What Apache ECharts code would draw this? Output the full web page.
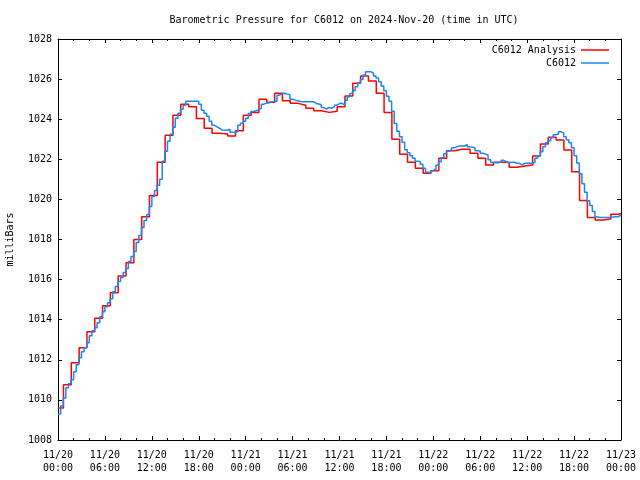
<!DOCTYPE html>
<html><head><meta charset="utf-8">
<script src="https://cdn.jsdelivr.net/npm/echarts@6/dist/echarts.min.js"></script>
<style>html,body{margin:0;padding:0;background:#fff}#c{width:640px;height:480px}</style>
</head><body><div id="c"></div>
<script>
// hours since 2024-11-20 00:00 UTC
const redTimes = [0,0.7,1.7,2.7,3.7,4.7,5.7,6.7,7.7,8.7,9.7,10.7,11.7,12.7,13.7,14.7,15.7,16.7,17.7,18.7,19.7,20.7,21.7,22.7,23.7,24.7,25.7,26.7,27.7,28.7,29.7,30.7,31.7,32.7,33.7,34.7,35.7,36.7,37.7,38.7,39.7,40.7,41.7,42.7,43.7,44.7,45.7,46.7,47.7,48.7,49.7,50.7,51.7,52.7,53.7,54.7,55.7,56.7,57.7,58.7,59.7,60.7,61.7,62.7,63.7,64.7,65.7,66.7,67.7,68.7,69.7,70.7,71.7,72];
const redValues = [1009.6,1010.75,1011.85,1012.6,1013.4,1014.07,1014.7,1015.35,1016.18,1016.84,1018.0,1019.14,1020.2,1021.85,1023.2,1024.2,1024.74,1024.62,1024.04,1023.55,1023.3,1023.26,1023.16,1023.43,1024.2,1024.34,1024.99,1024.85,1025.3,1024.92,1024.79,1024.7,1024.54,1024.42,1024.34,1024.4,1024.62,1025.16,1025.79,1026.15,1025.9,1025.29,1024.34,1023.0,1022.25,1021.85,1021.55,1021.3,1021.43,1022.05,1022.43,1022.5,1022.5,1022.3,1022.05,1021.72,1021.85,1021.85,1021.6,1021.67,1021.72,1022.16,1022.76,1023.1,1022.96,1022.46,1021.38,1019.94,1019.1,1018.97,1019.02,1019.26,1019.3,1019.3];
// C6012 observations every 20 minutes
const blueValues = [
1009.30,1009.70,1010.10,1010.60,1010.80,1011.00,1011.40,1011.75,1012.10,1012.40,
1012.60,1012.85,1013.20,1013.45,1013.60,1013.85,1014.15,1014.40,1014.65,1014.85,
1015.05,1015.40,1015.65,1015.90,1016.10,1016.35,1016.55,1016.90,1017.15,1017.40,
1017.85,1018.20,1018.60,1018.95,1019.25,1019.65,1020.15,1020.45,1020.70,1021.00,
1021.90,1022.40,1022.90,1023.25,1023.60,1024.05,1024.30,1024.50,1024.70,1024.90,
1024.90,1024.90,1024.90,1024.90,1024.75,1024.45,1024.30,1024.15,1023.90,1023.70,
1023.62,1023.55,1023.46,1023.45,1023.45,1023.50,1023.35,1023.33,1023.40,1023.70,
1023.80,1023.90,1024.05,1024.28,1024.38,1024.42,1024.46,1024.54,1024.75,1024.80,
1024.82,1024.87,1024.87,1024.90,1025.20,1025.28,1025.29,1025.25,1025.22,1025.00,
1024.95,1024.92,1024.88,1024.87,1024.87,1024.87,1024.87,1024.87,1024.80,1024.76,
1024.72,1024.58,1024.50,1024.59,1024.55,1024.60,1024.70,1024.78,1024.79,1024.70,
1024.95,1025.12,1025.28,1025.42,1025.62,1025.80,1025.98,1026.20,1026.37,1026.37,
1026.30,1026.15,1026.05,1025.87,1025.66,1025.42,1025.15,1024.90,1024.40,1023.78,
1023.40,1023.12,1022.85,1022.48,1022.33,1022.18,1022.05,1021.90,1021.88,1021.75,
1021.55,1021.36,1021.33,1021.43,1021.52,1021.70,1021.88,1022.08,1022.28,1022.40,
1022.47,1022.57,1022.62,1022.66,1022.66,1022.66,1022.74,1022.62,1022.60,1022.56,
1022.43,1022.42,1022.30,1022.26,1022.20,1021.98,1021.84,1021.83,1021.83,1021.85,
1021.95,1021.88,1021.82,1021.85,1021.85,1021.80,1021.80,1021.72,1021.80,1021.80,
1021.80,1021.80,1021.85,1022.05,1022.18,1022.38,1022.63,1022.82,1022.92,1023.08,
1023.22,1023.26,1023.38,1023.30,1023.12,1022.98,1022.82,1022.57,1022.18,1021.82,
1021.28,1020.78,1020.36,1019.93,1019.70,1019.40,1019.12,1019.10,1019.10,1019.10,
1019.10,1019.10,1019.12,1019.14,1019.14,1019.22,1019.22];
const blueStepHours = 1/3;
const seriesNames = ['C6012 Analysis','C6012'];
const dayLabels = ['11/20','11/21','11/22','11/23'];

const redData = redTimes.map((t,i)=>[t, redValues[i]]);
const blueData = blueValues.map((v,i)=>[i*blueStepHours, v]);

const FONT = 'DejaVu Sans Mono';
const txt = {fontFamily: FONT, fontSize: 10, color: '#000'};
function xfmt(v){
  const d = Math.floor(v/24), h = Math.round(v - d*24);
  return dayLabels[d] + '\n' + String(h).padStart(2,'0') + ':00';
}
const chart = echarts.init(document.getElementById('c'), null, {renderer:'canvas'});
chart.setOption({
  animation: false,
  backgroundColor: '#fff',
  title: {text: 'Barometric Pressure for C6012 on 2024-Nov-20 (time in UTC)', left: 339, textAlign: 'center', top: 10,
          textStyle: Object.assign({fontWeight:'normal'}, txt)},
  legend: {
    orient: 'vertical', right: 26, top: 40, align: 'right', itemWidth: 28, itemHeight: 1.5, itemGap: 3,
    icon: 'rect',
    textStyle: Object.assign({padding:[0,0,0,0]}, txt),
    data: seriesNames
  },
  grid: {left: 58, right: 19, top: 39, bottom: 40, containLabel: false, outerBoundsMode: 'none'},
  xAxis: [{
    type: 'value', min: 0, max: 72, interval: 6, position: 'bottom',
    axisLine: {show: true, lineStyle: {color: '#000', width: 1}},
    axisTick: {show: true, inside: true, length: 4, lineStyle: {color:'#000'}},
    minorTick: {show: true, splitNumber: 3, length: 2, lineStyle: {color:'#000'}},
    splitLine: {show: false},
    axisLabel: Object.assign({formatter: xfmt, margin: 9, lineHeight: 13}, txt)
  },{
    type: 'value', min: 0, max: 72, interval: 6, position: 'top',
    axisLine: {show: true, onZero:false, lineStyle: {color: '#000', width: 1}},
    axisTick: {show: true, inside: true, length: 4, lineStyle: {color:'#000'}},
    minorTick: {show: true, splitNumber: 3, length: 2, lineStyle: {color:'#000'}},
    splitLine: {show: false}, axisLabel: {show: false}
  }],
  yAxis: [{
    type: 'value', min: 1008, max: 1028, interval: 2, position: 'left',
    name: 'milliBars', nameLocation: 'middle', nameGap: 43, nameRotate: 90,
    nameTextStyle: txt,
    axisLine: {show: true, lineStyle: {color: '#000', width: 1}},
    axisTick: {show: true, inside: true, length: 4, lineStyle: {color:'#000'}},
    splitLine: {show: false},
    axisLabel: Object.assign({margin: 6, formatter: v => String(v)}, txt)
  },{
    type: 'value', min: 1008, max: 1028, interval: 2, position: 'right',
    axisLine: {show: true, onZero:false, lineStyle: {color: '#000', width: 1}},
    axisTick: {show: true, inside: true, length: 4, lineStyle: {color:'#000'}},
    splitLine: {show: false}, axisLabel: {show: false}
  }],
  series: [
    {name: seriesNames[0], type: 'line', step: 'end', data: redData, symbol: 'none', showSymbol: false,
     xAxisIndex: 0, yAxisIndex: 0, color: '#ff0000', lineStyle: {color: '#ff0000', width: 1.5}},
    {name: seriesNames[1], type: 'line', step: 'end', data: blueData, symbol: 'none', showSymbol: false,
     xAxisIndex: 0, yAxisIndex: 0, color: '#1a86f0', lineStyle: {color: '#1a86f0', width: 1.5}}
  ]
});
</script></body></html>
